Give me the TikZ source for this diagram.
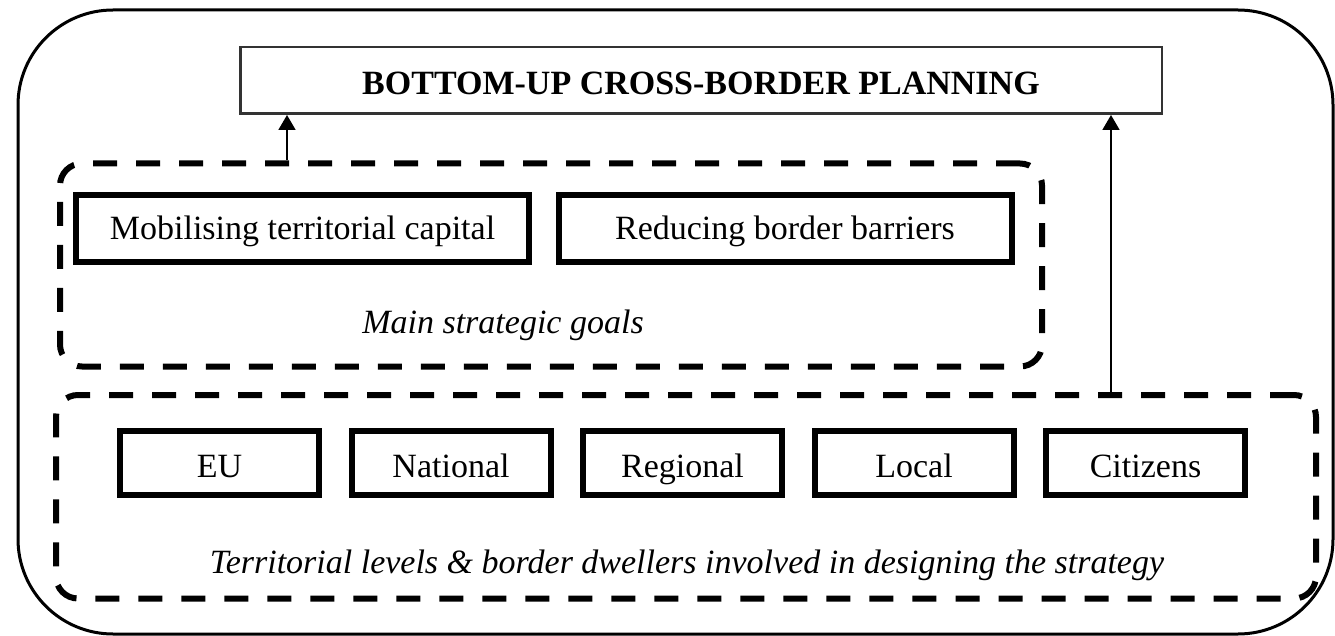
\documentclass[tikz,border=0pt]{standalone}
\usepackage{fontspec}
\setmainfont{Liberation Serif}
\usetikzlibrary{arrows.meta}

\begin{document}
\begin{tikzpicture}[x=1pt,y=-1pt,
        every node/.style={font=\fontsize{34}{40}\selectfont},
        goalbox/.style={draw,line width=6pt,minimum width=453pt,minimum height=67pt,inner sep=0pt,text height=23pt,text depth=0pt},
        levelbox/.style={draw,line width=6pt,minimum width=199pt,minimum height=64pt,inner sep=0pt,text height=28pt,text depth=0pt},
        groupbox/.style={draw,line width=6pt,dash pattern=on 24pt off 19pt,rounded corners=22pt},
        arr/.style={-{Triangle[length=15pt,width=17pt]},line width=1.8pt}]
        \useasboundingbox (0,0) rectangle (1335,636);
        \draw[line width=3pt,rounded corners=95pt] (18,10) rectangle (1333,634);
        \node[draw=black!80,line width=2.5pt,minimum width=921.5pt,minimum height=66.5pt,inner sep=0pt,text height=29pt,text depth=0pt,font=\fontsize{34}{40}\selectfont\bfseries] (title) at (701,80.5) {BOTTOM-UP CROSS-BORDER PLANNING};
        \node[groupbox,minimum width=982pt,minimum height=203pt] (goals) at (551,265) {};
        \node[goalbox] (capital) at (302.5,228.5) {Mobilising territorial capital};
        \node[goalbox] (barriers) at (785,228.5) {Reducing border barriers};
        \node[anchor=base,font=\fontsize{34}{40}\selectfont\itshape] (goalslabel) at (503,333) {Main strategic goals};
        \node[groupbox,minimum width=1260pt,minimum height=203.5pt] (levels) at (686,496.75) {};
        \node[levelbox] (eu) at (219.5,463) {EU};
        \node[levelbox] (national) at (451,463) {National};
        \node[levelbox] (regional) at (682.5,463) {Regional};
        \node[levelbox] (local) at (914,463) {Local};
        \node[levelbox] (citizens) at (1145.5,463) {Citizens};
        \node[anchor=base,font=\fontsize{34}{40}\selectfont\itshape] (levelslabel) at (687,573) {Territorial levels \& border dwellers involved in designing the strategy};
        \draw[arr] ([xshift=-264pt]goals.north) -- ([xshift=-264pt]goals.north |- title.south);
        \draw[arr] ([xshift=425pt]levels.north) -- ([xshift=425pt]levels.north |- title.south);
    \end{tikzpicture}
\end{document}
